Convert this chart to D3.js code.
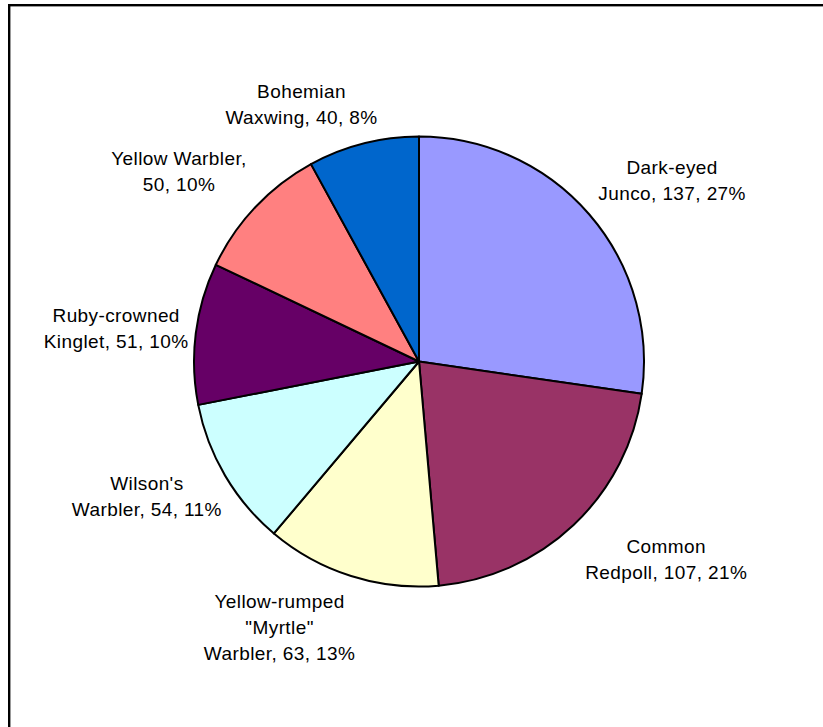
<!DOCTYPE html>
<html>
<head>
<meta charset="utf-8">
<script src="https://cdn.jsdelivr.net/npm/d3@7"></script>
<style>
  html, body { margin: 0; padding: 0; background: #fff; overflow: hidden; }
  text { font-family: "Liberation Sans", Arial, sans-serif; font-size: 19px; fill: #000; letter-spacing: 0.4px; }
</style>
</head>
<body>
<svg id="chart" width="823" height="727"></svg>
<script>
// ---- data ----
const categories = ["Dark-eyed Junco", "Common Redpoll", "Yellow-rumped \"Myrtle\" Warbler",
                    "Wilson's Warbler", "Ruby-crowned Kinglet", "Yellow Warbler", "Bohemian Waxwing"];
const counts = [137, 107, 63, 54, 51, 50, 40];
// how each category name is broken over lines in its label
const nameLines = [
  ["Dark-eyed", "Junco"],
  ["Common", "Redpoll"],
  ["Yellow-rumped", "\"Myrtle\"", "Warbler"],
  ["Wilson's", "Warbler"],
  ["Ruby-crowned", "Kinglet"],
  ["Yellow Warbler"],
  ["Bohemian", "Waxwing"]
];
const valueOnNewLine = [false, false, false, false, false, true, false];
const colors = ["#9999FF", "#993366", "#FFFFCC", "#CCFFFF", "#660066", "#FF8080", "#0066CC"];

// ---- layout ----
const W = 823, H = 727;
const cx = 419, cy = 361.5, R = 225;
const labelGap = 32, lineH = 26;
const labelNudge = [[3, 2], [15, -5], [-39, -13], [14, -7], [24, 2], [-4, 2], [-35, 14]];

const svg = d3.select("#chart");
svg.append("rect").attr("x", 0).attr("y", 0).attr("width", W).attr("height", H).attr("fill", "#fff");
// chart frame (only top & left edges visible in the window)
svg.append("rect").attr("x", 9.2).attr("y", 5.2).attr("width", 1000).attr("height", 1000)
   .attr("fill", "none").attr("stroke", "#000").attr("stroke-width", 2.4);

const total = d3.sum(counts);
const pct = d3.format(".0%");
const data = categories.map((c, i) => ({ name: c, value: counts[i], i }));

const pie = d3.pie().sort(null).value(d => d.value).startAngle(0).endAngle(2 * Math.PI);
const arcs = pie(data);
const arc = d3.arc().innerRadius(0).outerRadius(R);

const g = svg.append("g").attr("transform", `translate(${cx},${cy})`);
g.selectAll("path.slice").data(arcs).enter().append("path")
  .attr("class", "slice")
  .attr("d", arc)
  .attr("fill", d => colors[d.data.i])
  .attr("stroke", "#000")
  .attr("stroke-width", 2)
  .attr("stroke-linejoin", "round");

// labels
arcs.forEach(d => {
  const i = d.data.i;
  const tail = `${d.data.value}, ${pct(d.data.value / total)}`;
  let lines = nameLines[i].slice();
  if (valueOnNewLine[i]) {
    lines[lines.length - 1] += ",";
    lines.push(tail);
  } else {
    lines[lines.length - 1] += ", " + tail;
  }
  const t = g.append("text").attr("text-anchor", "middle");
  lines.forEach((ln, k) => t.append("tspan").attr("x", 0).attr("dy", k === 0 ? 0 : lineH).text(ln));
  let w = 0;
  t.selectAll("tspan").each(function () { w = Math.max(w, this.getComputedTextLength()); });
  const h = (lines.length - 1) * lineH + 19;
  const mid = (d.startAngle + d.endAngle) / 2;
  const [px, py] = [Math.sin(mid) * (R + labelGap), -Math.cos(mid) * (R + labelGap)];
  const bx = px + Math.sin(mid) * w / 2 + labelNudge[i][0];
  const by = py - Math.cos(mid) * h / 2 + labelNudge[i][1];
  const firstBaseline = by - (lines.length - 1) * lineH / 2 + 6.7;
  t.attr("transform", `translate(${bx},${firstBaseline})`);
});
</script>
</body>
</html>
